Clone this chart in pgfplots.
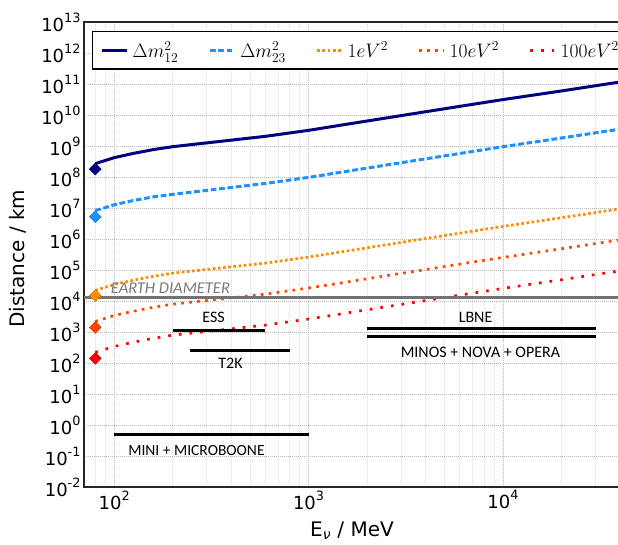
\RequirePackage{fix-cm}
\documentclass[border=0pt]{standalone}
\usepackage{pgfplots}
\pgfplotsset{compat=1.18}
\usepackage{pgfplotstable}
\usepackage{fontspec}
\setmainfont{DejaVu Sans}
\newfontfamily\calfont{Carlito}
\definecolor{navy}{HTML}{000080}
\definecolor{dodger}{HTML}{1E90FF}
\definecolor{dorange}{HTML}{FF8C00}
\definecolor{ored}{HTML}{FF4500}
\definecolor{myred}{HTML}{FF0000}
\newcommand{\tl}[1]{10\raisebox{0.5em}{\fontsize{12.8}{12.8}\selectfont #1}}

\pgfplotstableread{
E L
80 2.7e8
100 4.2e8
126 5.8e8
160 7.7e8
200 9.5e8
600 2.05e9
1000 3.2e9
2000 6.4e9
5000 1.59e10
10000 3.14e10
20000 5.97e10
40000 1.16e11
}\dmA
\pgfplotstableread{
E L
80 8.2e6
100 1.27e7
126 1.75e7
160 2.3e7
200 2.75e7
600 6.2e7
1000 9.7e7
2000 1.94e8
5000 4.8e8
10000 9.5e8
20000 1.81e9
40000 3.5e9
}\dmB
\pgfplotstableread{
E L
80 2.2e4
100 3.4e4
126 4.7e4
160 6.3e4
200 7.9e4
600 1.67e5
1000 2.62e5
2000 5.2e5
5000 1.29e6
10000 2.55e6
20000 4.85e6
40000 9.4e6
}\evA
\pgfplotstableread{
E L
80 2.2e3
100 3.4e3
126 4.7e3
160 6.3e3
200 7.9e3
600 1.67e4
1000 2.62e4
2000 5.2e4
5000 1.29e5
10000 2.55e5
20000 4.85e5
40000 9.4e5
}\evB
\pgfplotstableread{
E L
80 2.2e2
100 3.4e2
126 4.7e2
160 6.3e2
200 7.9e2
600 1.67e3
1000 2.62e3
2000 5.2e3
5000 1.29e4
10000 2.55e4
20000 4.85e4
40000 9.4e4
}\evC

\begin{document}
\begin{tikzpicture}
\begin{axis}[
  name=ax,
  xmode=log, ymode=log,
  scale only axis,
  width=536pt, height=465pt,
  xmin=70, xmax=40000,
  ymin=1e-2, ymax=1e13,
  xtick={100,1000,10000},
  xticklabels={\tl{2},\tl{3},\tl{4}},
  minor xtick={80,90,200,300,400,500,600,700,800,900,2000,3000,4000,5000,6000,7000,8000,9000,20000,30000},
  ytick={1e-2,1e-1,1,1e1,1e2,1e3,1e4,1e5,1e6,1e7,1e8,1e9,1e10,1e11,1e12,1e13},
  yticklabels={\tl{-2},\tl{-1},\tl{0},\tl{1},\tl{2},\tl{3},\tl{4},\tl{5},\tl{6},\tl{7},\tl{8},\tl{9},\tl{10},\tl{11},\tl{12},\tl{13}},
  yminorticks=false,
  major tick length=0pt, minor tick length=0pt,
  tick label style={font=\fontsize{18}{18}\selectfont},
  xmajorgrids, ymajorgrids, xminorgrids,
  major grid style={dash pattern=on 1pt off 1pt, gray!55, line width=0.8pt},
  minor grid style={dash pattern=on 1pt off 1pt, gray!30, line width=0.8pt},
  axis line style={line width=1.3pt, black!85},
  every axis x label/.style={at={(axis description cs:0.5,-0.094)}, anchor=center},
  every axis y label/.style={at={(axis description cs:-0.124,0.491)}, anchor=center, rotate=90},
  label style={font=\fontsize{20}{20}\selectfont},
  xlabel={E\textsubscript{\textit{ν}} / MeV},
  ylabel={Distance / km},
  legend columns=5,
  legend cell align=left,
  legend image code/.code={\draw[#1] (0pt,0pt) -- (25pt,0pt);},
  legend style={at={(axis description cs:0.015,0.981)}, anchor=north west,
    draw=black, line width=1.3pt, fill=white,
    font=\fontsize{19.5}{19.5}\selectfont,
    inner xsep=8pt, inner ysep=8pt,
    nodes={inner xsep=4pt},
    /tikz/every even column/.append style={column sep=26pt}},
]
\addplot[navy, line width=3pt] table[x=E,y=L] {\dmA};
\addlegendentry{$\Delta m^2_{12}$}
\addplot[dodger, line width=3pt, dash pattern=on 5.7pt off 2.7pt] table[x=E,y=L] {\dmB};
\addlegendentry{$\Delta m^2_{23}$}
\addplot[dorange, line width=2.7pt, dash pattern=on 2.7pt off 2.5pt] table[x=E,y=L] {\evA};
\addlegendentry{$1eV^2$}
\addplot[ored, line width=2.7pt, dash pattern=on 2.7pt off 5.3pt] table[x=E,y=L] {\evB};
\addlegendentry{$10eV^2$}
\addplot[myred, line width=2.7pt, dash pattern=on 2.7pt off 8pt] table[x=E,y=L] {\evC};
\addlegendentry{$100eV^2$}

% markers
\addplot[forget plot, only marks, mark=square*, mark size=4.2pt, mark options={rotate=45, fill=navy, draw=navy!80!black}] coordinates {(80,1.8e8)};
\addplot[forget plot, only marks, mark=square*, mark size=4.2pt, mark options={rotate=45, fill=dodger, draw=dodger!80!black}] coordinates {(80,5.2e6)};
\addplot[forget plot, only marks, mark=square*, mark size=4.2pt, mark options={rotate=45, fill=dorange, draw=dorange!80!black}] coordinates {(80,1.5e4)};
\addplot[forget plot, only marks, mark=square*, mark size=4.2pt, mark options={rotate=45, fill=ored, draw=ored!80!black}] coordinates {(80,1.4e3)};
\addplot[forget plot, only marks, mark=square*, mark size=4.2pt, mark options={rotate=45, fill=myred, draw=myred!80!black}] coordinates {(80,1.4e2)};

% earth diameter
\addplot[forget plot, black!55, line width=3.3pt] coordinates {(70,12742) (40000,12742)};
\node[anchor=west, text=black!52, font=\calfont\itshape\fontsize{16.5}{16.5}\selectfont, inner sep=0pt] at (axis cs:96,2.6e4) {EARTH DIAMETER};

% experiments
\addplot[forget plot, black, line width=2.8pt] coordinates {(200,1100) (600,1100)};
\addplot[forget plot, black, line width=2.8pt] coordinates {(245,250) (800,250)};
\addplot[forget plot, black, line width=2.8pt] coordinates {(2000,1300) (30000,1300)};
\addplot[forget plot, black, line width=2.8pt] coordinates {(2000,735) (30000,735)};
\addplot[forget plot, black, line width=2.8pt] coordinates {(100,0.5) (1000,0.5)};

\node[font=\calfont\fontsize{16}{16}\selectfont] at (axis cs:325,2980) {ESS};
\node[font=\calfont\fontsize{16}{16}\selectfont] at (axis cs:397,98) {T2K};
\node[font=\calfont\fontsize{16}{16}\selectfont] at (axis cs:7230,2980) {LBNE};
\node[font=\calfont\fontsize{16}{16}\selectfont] at (axis cs:7660,221) {MINOS + NOVA + OPERA};
\node[font=\calfont\fontsize{15.5}{15.5}\selectfont] at (axis cs:265,0.145) {MINI + MICROBOONE};
\end{axis}
\pgfresetboundingbox
\path[use as bounding box] ([xshift=-84pt,yshift=-57pt]ax.south west) rectangle ([xshift=534pt,yshift=22pt]ax.north west);
\end{tikzpicture}
\end{document}
